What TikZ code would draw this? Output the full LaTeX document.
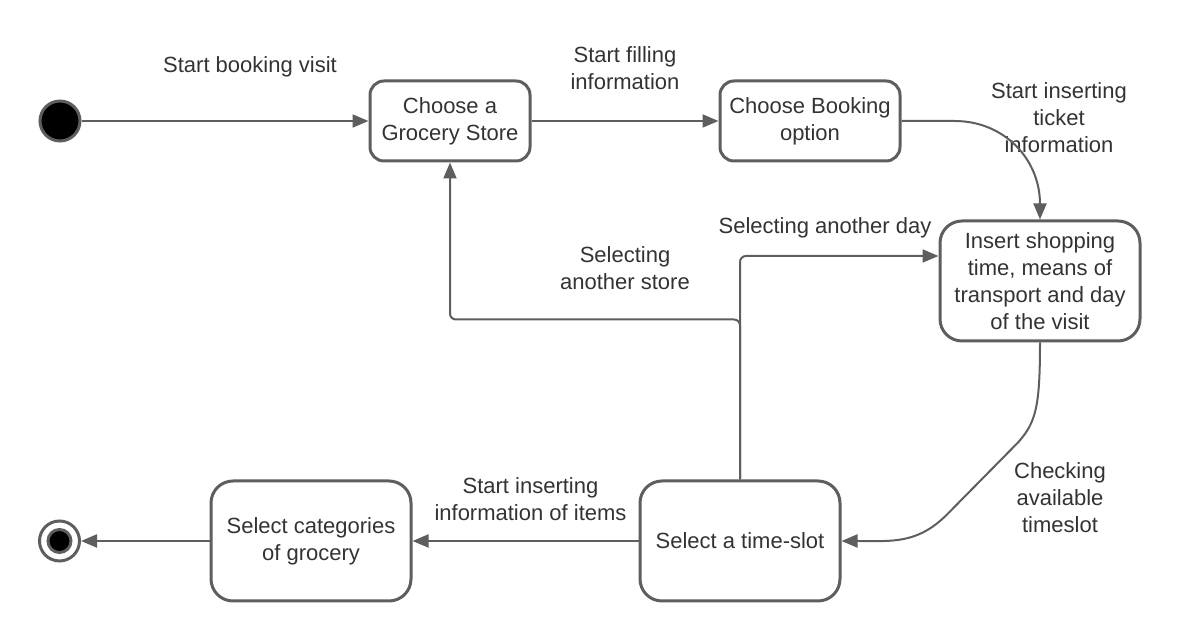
\documentclass[tikz,border=0pt]{standalone}
\usepackage{fontspec}
\setmainfont{Liberation Sans}
\usetikzlibrary{positioning,arrows.meta,calc}
\definecolor{linegray}{HTML}{5E5E5E}
\definecolor{textgray}{HTML}{333333}
\begin{document}
\begin{tikzpicture}[->,>={Triangle[length=8pt,width=6.5pt]},on grid,line width=1pt,
		color=linegray,text=textgray,font=\fontsize{11}{13.5}\selectfont,
		state/.style={rectangle,rounded corners=7pt,draw,line width=1.5pt,align=center,inner sep=0pt,minimum width=80pt,minimum height=40pt},
		bigstate/.style={state,rounded corners=11pt,minimum width=100pt,minimum height=60pt},
		startdot/.style={circle,draw,fill=black,line width=1.5pt,inner sep=0pt,minimum size=20pt},
		endring/.style={circle,draw,fill=white,line width=1.5pt,inner sep=0pt,minimum size=20pt},
		enddotin/.style={circle,draw,fill=black,line width=1.5pt,inner sep=0pt,minimum size=11.5pt},
		lbl/.style={align=center,inner sep=0pt}]
		\useasboundingbox (0,0) rectangle (590pt,-320pt);
		
		\node[startdot] (start)   at (30pt,-60.5pt)                 {};
		\node[state]    (grocery) [right=195pt of start]           {Choose a\\Grocery Store};
		\node[state]    (booking) [right=180pt of grocery, minimum width=90pt] {Choose Booking\\option};
		\node[bigstate] (insert)  [below right=80pt and 115pt of booking] {Insert shopping\\time, means of\\transport and day\\of the visit};
		\node[bigstate] (slot)    [below left=130pt and 150pt of insert] {Select a time-slot};
		\node[bigstate] (categ)   [left=214.5pt of slot]          {Select categories\\of grocery};
		\node[endring]  (end)     [left=125.75pt of categ]        {};
		\node[enddotin] (endin)   at (end.center)                 {};
		
		\node[lbl] (lticket) [right=124.5pt of booking, yshift=1.5pt] {Start inserting\\ticket\\information};
		\node[lbl] (lday)    [above left=26.5pt and 107.5pt of insert] {Selecting another day};
		\node[lbl] (lstore)  [below right=73.5pt and 87.5pt of grocery] {Selecting\\another store};
		\node[lbl] (lcheck)  [below right=108.5pt and 10pt of insert] {Checking\\available\\timeslot};
		
		\coordinate (bendA) at ($(insert.south)+(-11pt,-50pt)$);
		\coordinate (bendB) at ($(bendA)+(-35.5pt,-36pt)$);
		
		\path[->]
		(start) edge node[lbl,xshift=12.5pt,yshift=27pt] {Start booking visit} (grocery)
		(grocery) edge node[lbl,yshift=26.5pt] {Start filling\\information} (booking)
		(slot) edge node[lbl,xshift=2.5pt,yshift=21pt] {Start inserting\\information of items} (categ)
		(categ) edge (end);
		
		\draw (booking.east) -- ++(26.5pt,0) .. controls +(25pt,0) and +(0,30pt) .. (insert.north);
		\draw (insert.south) .. controls +(0,-32pt) and +(9pt,10pt) .. (bendA) -- (bendB)
			.. controls +(-15pt,-15pt) and +(25pt,0) .. (slot.east);
		\draw[rounded corners=3pt] (slot.north) -- ++(0,80pt) -| (grocery.south);
		\draw[rounded corners=3pt] (slot.north) |- ([yshift=12.5pt]insert.west);
\end{tikzpicture}
\end{document}
